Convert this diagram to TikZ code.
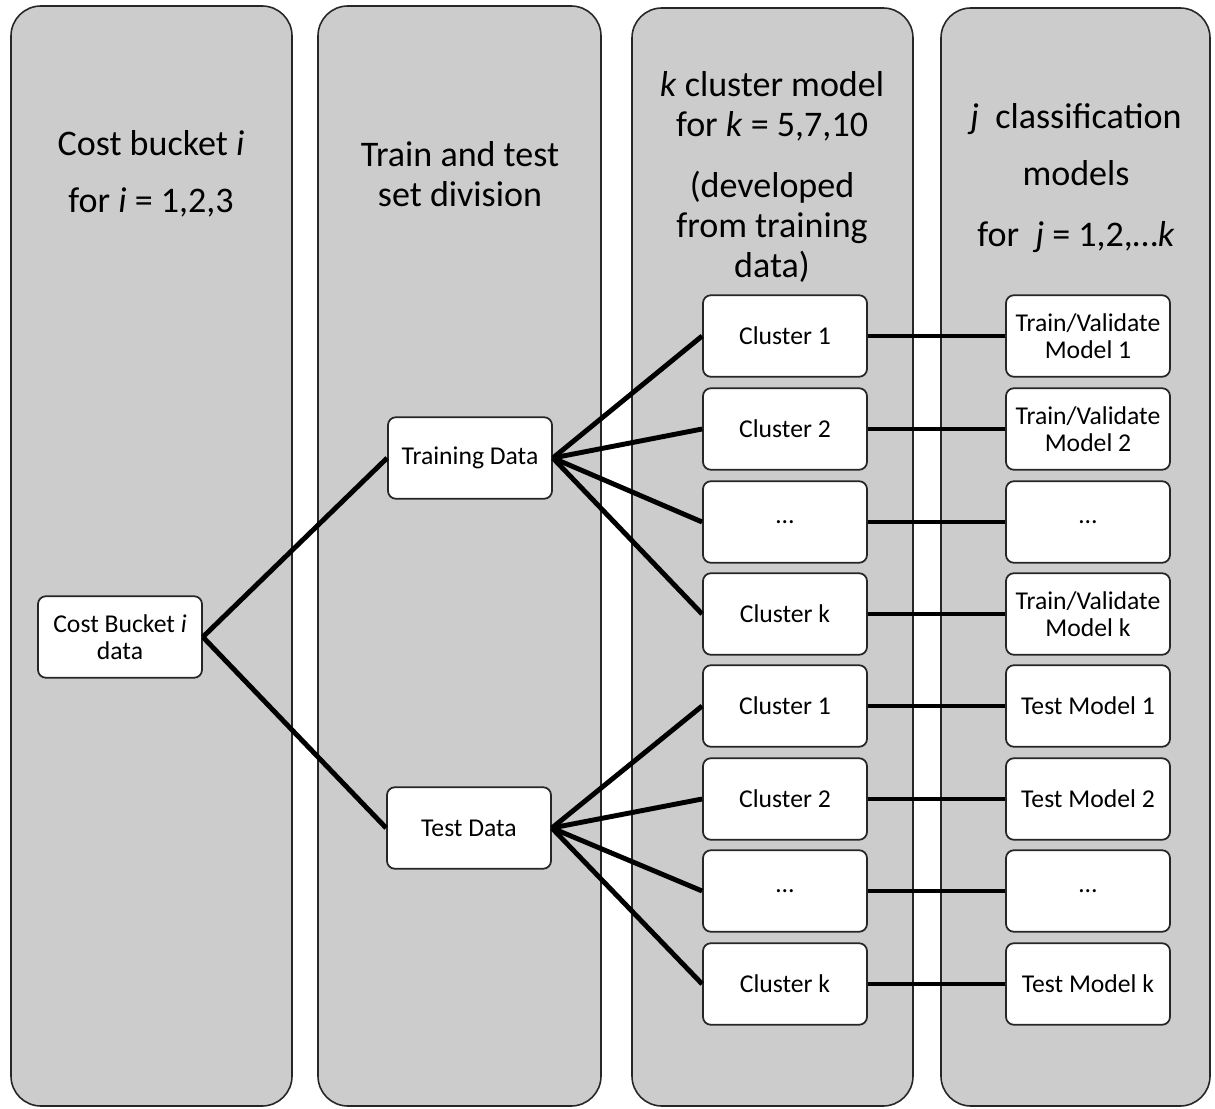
\documentclass[tikz,border=0pt]{standalone}
\usepackage{fontspec}
\setmainfont{Carlito}
\usetikzlibrary{positioning}

\tikzset{
  lane/.style={draw=black!85,line width=0.9pt,fill=black!20,rounded corners=17pt},
  head/.style={align=center,font=\fontsize{20.5}{23}\selectfont},
  box/.style={draw=black!85,line width=1pt,fill=white,rounded corners=4.5pt,
              minimum width=3.28cm,minimum height=1.63cm,align=center,
              inner sep=2pt,font=\fontsize{14.6}{15.6}\selectfont},
  link/.style={line width=2.8pt}
}

\begin{document}
\begin{tikzpicture}[x=0.2mm,y=-0.2mm]
  \useasboundingbox (0,0) rectangle (1215,1109);
  % the four lanes
  \draw[lane] (11,6)  rectangle (292,1106);
  \draw[lane] (318,6) rectangle (601,1106);
  \draw[lane] (632,8) rectangle (913,1106);
  \draw[lane] (941,8) rectangle (1210,1106);
  \node[head] (h1) at (151,174) {Cost bucket \textit{i}\\[9.5pt] for \textit{i} = 1,2,3};
  \node[head] (h2) at (460,174) {Train and test\\ set division};
  \node[head] (h3) at (772,177)
        {\textit{k} cluster model\\ for \textit{k} = 5,7,10\\[11.4pt] (developed\\ from training\\ data)};
  \node[head] (h4) at (1076,178)
        {\textit{j}\ \ classification\\[9.7pt] models\\[11.4pt] for\ \ \textit{j} = 1,2,…\textit{k}};

  % data split
  \node[box] (cost)  at (120,637) {Cost Bucket \textit{i}\\ data};
  \node[box] (train) at (470,458) {Training Data};
  \node[box] (test)  at (469,828) {Test Data};
  \draw[link] (cost.east) -- (train.west);
  \draw[link] (cost.east) -- (test.west);

  % clusters and their models, one row each
  \foreach \n/\y/\cl/\md in {1/336/Cluster 1/{Train/Validate\\Model 1},
                             2/429/Cluster 2/{Train/Validate\\Model 2},
                             3/522/…/…,
                             4/614/Cluster k/{Train/Validate\\Model k},
                             5/706/Cluster 1/Test Model 1,
                             6/799/Cluster 2/Test Model 2,
                             7/891/…/…,
                             8/984/Cluster k/Test Model k}
     { \node[box] (c\n) at (785,\y) {\cl};
       \node[box] (m\n) at (1088,\y) {\md};
       \draw[link] (c\n.east) -- (m\n.west); }
  \foreach \n in {1,2,3,4}
     { \draw[link] (train.east) -- (c\n.west); }
  \foreach \n in {5,6,7,8}
     { \draw[link] (test.east) -- (c\n.west); }
\end{tikzpicture}
\end{document}
